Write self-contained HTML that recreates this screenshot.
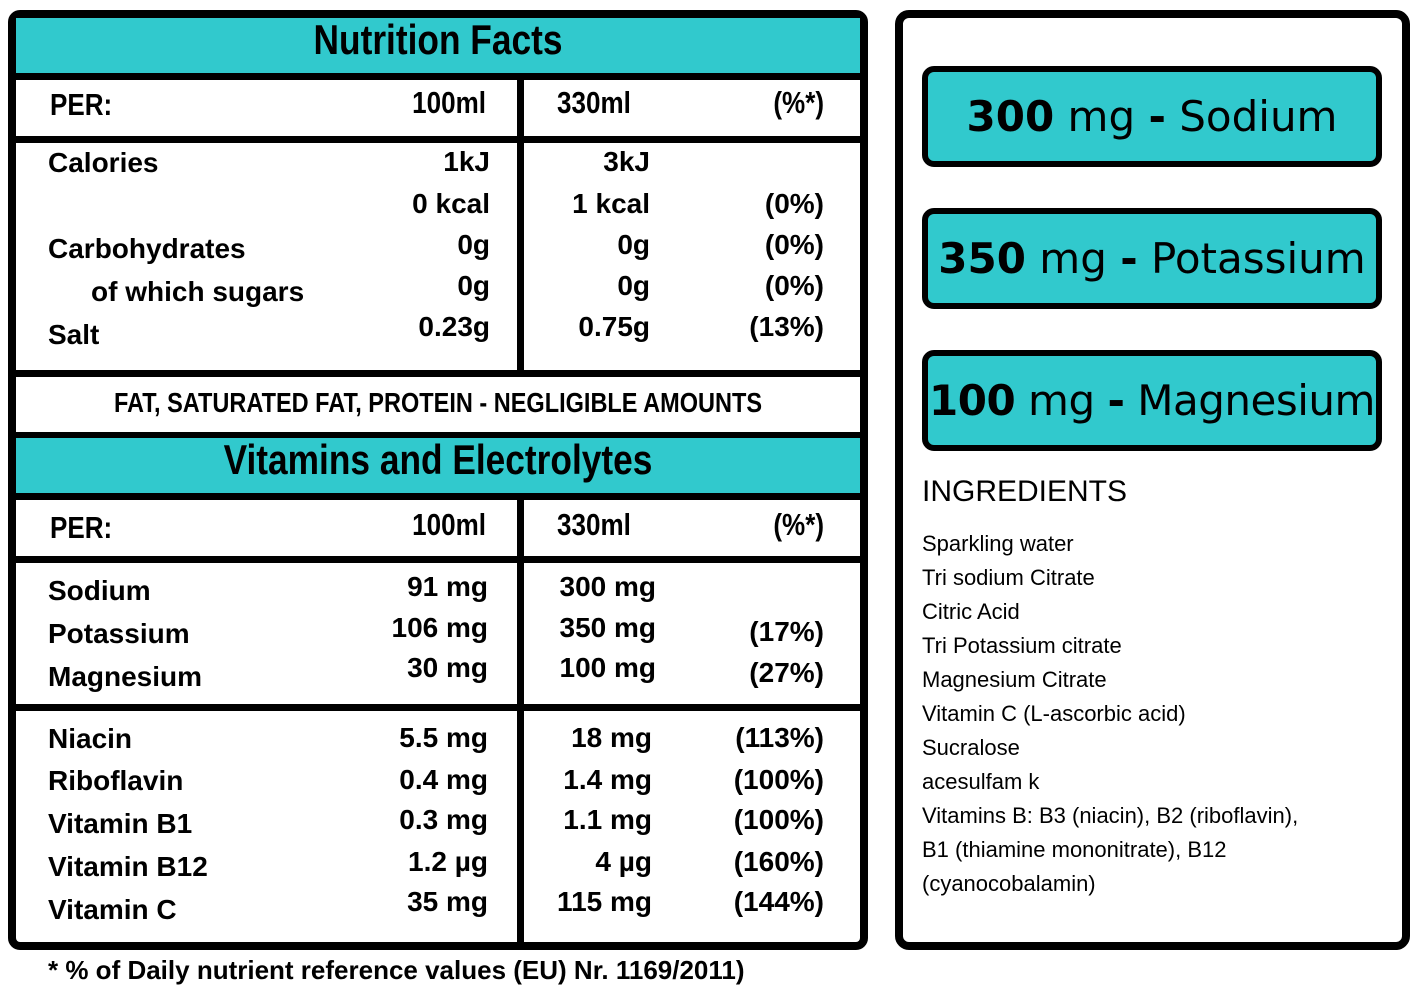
<!DOCTYPE html>
<html><head><meta charset="utf-8"><style>
body{margin:0;width:1422px;height:996px;background:#fff;position:relative;overflow:hidden;font-family:"Liberation Sans",Arial,sans-serif;color:#000}
.a{position:absolute}
.t{position:absolute;height:36px;line-height:36px;font-weight:bold;font-size:28px;white-space:nowrap}
.r{text-align:right}
.hl{position:absolute;left:12px;width:852px;height:7px;background:#000}
.teal{position:absolute;left:16px;width:844px;background:#31c9cd}
.nar{transform:scaleX(0.84);transform-origin:center}
.narL{transform:scaleX(0.84);transform-origin:left center}
.narR{transform:scaleX(0.84);transform-origin:right center}
.pill{position:absolute;left:922px;width:448px;height:89px;border:6px solid #000;border-radius:12px;background:#31c9cd;font-family:"DejaVu Sans",sans-serif;font-size:42px;line-height:89px;text-align:center;white-space:nowrap}
.pill b{font-weight:900}
.ing{position:absolute;left:922px;font-size:22px;line-height:34px}
</style></head><body>
<div class="a" style="left:8px;top:10px;width:844px;height:924px;border:8px solid #000;border-radius:12px"></div>
<div class="teal" style="top:18px;height:55px"></div>
<div class="t nar" style="left:16px;width:844px;top:20px;height:40px;line-height:40px;text-align:center;font-size:42px">Nutrition Facts</div>
<div class="hl" style="top:73px"></div>
<div class="hl" style="top:136px"></div>
<div class="hl" style="top:370px"></div>
<div class="hl" style="top:432px"></div>
<div class="teal" style="top:438px;height:55px"></div>
<div class="hl" style="top:493px"></div>
<div class="hl" style="top:556px"></div>
<div class="hl" style="top:704px"></div>
<div class="a" style="left:517px;top:78px;width:7px;height:295px;background:#000"></div>
<div class="a" style="left:517px;top:498px;width:7px;height:446px;background:#000"></div>

<div class="t narL" style="left:50px;top:87px;font-size:31px">PER:</div>
<div class="t narR r" style="left:288px;width:198px;top:85px;font-size:31px">100ml</div>
<div class="t narL" style="left:557px;top:85px;font-size:31px">330ml</div>
<div class="t narR r" style="left:700px;width:124px;top:85px;font-size:31px">(%*)</div>

<div class="t" style="left:48px;top:145px">Calories</div>
<div class="t r" style="left:290px;width:200px;top:144px">1kJ</div>
<div class="t r" style="left:450px;width:200px;top:144px">3kJ</div>
<div class="t r" style="left:290px;width:200px;top:186px">0 kcal</div>
<div class="t r" style="left:450px;width:200px;top:186px">1 kcal</div>
<div class="t r" style="left:624px;width:200px;top:186px">(0%)</div>
<div class="t" style="left:48px;top:231px">Carbohydrates</div>
<div class="t r" style="left:290px;width:200px;top:227px">0g</div>
<div class="t r" style="left:450px;width:200px;top:227px">0g</div>
<div class="t r" style="left:624px;width:200px;top:227px">(0%)</div>
<div class="t" style="left:91px;top:274px">of which sugars</div>
<div class="t r" style="left:290px;width:200px;top:268px">0g</div>
<div class="t r" style="left:450px;width:200px;top:268px">0g</div>
<div class="t r" style="left:624px;width:200px;top:268px">(0%)</div>
<div class="t" style="left:48px;top:317px">Salt</div>
<div class="t r" style="left:290px;width:200px;top:309px">0.23g</div>
<div class="t r" style="left:450px;width:200px;top:309px">0.75g</div>
<div class="t r" style="left:624px;width:200px;top:309px">(13%)</div>

<div class="t nar" style="left:16px;width:844px;top:385px;text-align:center;font-size:28px">FAT, SATURATED FAT, PROTEIN - NEGLIGIBLE AMOUNTS</div>
<div class="t nar" style="left:16px;width:844px;top:440px;height:40px;line-height:40px;text-align:center;font-size:42px">Vitamins and Electrolytes</div>

<div class="t narL" style="left:50px;top:510px;font-size:31px">PER:</div>
<div class="t narR r" style="left:288px;width:198px;top:507px;font-size:31px">100ml</div>
<div class="t narL" style="left:557px;top:507px;font-size:31px">330ml</div>
<div class="t narR r" style="left:700px;width:124px;top:507px;font-size:31px">(%*)</div>

<div class="t" style="left:48px;top:573px">Sodium</div>
<div class="t r" style="left:288px;width:200px;top:569px">91 mg</div>
<div class="t r" style="left:456px;width:200px;top:569px">300 mg</div>
<div class="t" style="left:48px;top:616px">Potassium</div>
<div class="t r" style="left:288px;width:200px;top:610px">106 mg</div>
<div class="t r" style="left:456px;width:200px;top:610px">350 mg</div>
<div class="t r" style="left:624px;width:200px;top:614px">(17%)</div>
<div class="t" style="left:48px;top:659px">Magnesium</div>
<div class="t r" style="left:288px;width:200px;top:650px">30 mg</div>
<div class="t r" style="left:456px;width:200px;top:650px">100 mg</div>
<div class="t r" style="left:624px;width:200px;top:655px">(27%)</div>

<div class="t" style="left:48px;top:721px">Niacin</div>
<div class="t r" style="left:288px;width:200px;top:720px">5.5 mg</div>
<div class="t r" style="left:452px;width:200px;top:720px">18 mg</div>
<div class="t r" style="left:624px;width:200px;top:720px">(113%)</div>
<div class="t" style="left:48px;top:763px">Riboflavin</div>
<div class="t r" style="left:288px;width:200px;top:762px">0.4 mg</div>
<div class="t r" style="left:452px;width:200px;top:762px">1.4 mg</div>
<div class="t r" style="left:624px;width:200px;top:762px">(100%)</div>
<div class="t" style="left:48px;top:806px">Vitamin B1</div>
<div class="t r" style="left:288px;width:200px;top:802px">0.3 mg</div>
<div class="t r" style="left:452px;width:200px;top:802px">1.1 mg</div>
<div class="t r" style="left:624px;width:200px;top:802px">(100%)</div>
<div class="t" style="left:48px;top:849px">Vitamin B12</div>
<div class="t r" style="left:288px;width:200px;top:844px">1.2 µg</div>
<div class="t r" style="left:452px;width:200px;top:844px">4 µg</div>
<div class="t r" style="left:624px;width:200px;top:844px">(160%)</div>
<div class="t" style="left:48px;top:892px">Vitamin C</div>
<div class="t r" style="left:288px;width:200px;top:884px">35 mg</div>
<div class="t r" style="left:452px;width:200px;top:884px">115 mg</div>
<div class="t r" style="left:624px;width:200px;top:884px">(144%)</div>

<div class="t" style="left:48px;top:952px;font-size:26px">* % of Daily nutrient reference values (EU) Nr. 1169/2011)</div>

<div class="a" style="left:895px;top:10px;width:499px;height:924px;border:8px solid #000;border-radius:14px"></div>
<div class="pill" style="top:66px"><b>300</b> mg <b>-</b> Sodium</div>
<div class="pill" style="top:208px"><b>350</b> mg <b>-</b> Potassium</div>
<div class="pill" style="top:350px;letter-spacing:-0.5px"><b>100</b> mg <b>-</b> Magnesium</div>
<div class="a" style="left:922px;top:474px;font-size:30px;line-height:36px">INGREDIENTS</div>
<div class="ing" style="top:527px">Sparkling water<br>Tri sodium Citrate<br>Citric Acid<br>Tri Potassium citrate<br>Magnesium Citrate<br>Vitamin C (L-ascorbic acid)<br>Sucralose<br>acesulfam k<br>Vitamins B: B3 (niacin), B2 (riboflavin),<br>B1 (thiamine mononitrate), B12<br>(cyanocobalamin)</div>
</body></html>
